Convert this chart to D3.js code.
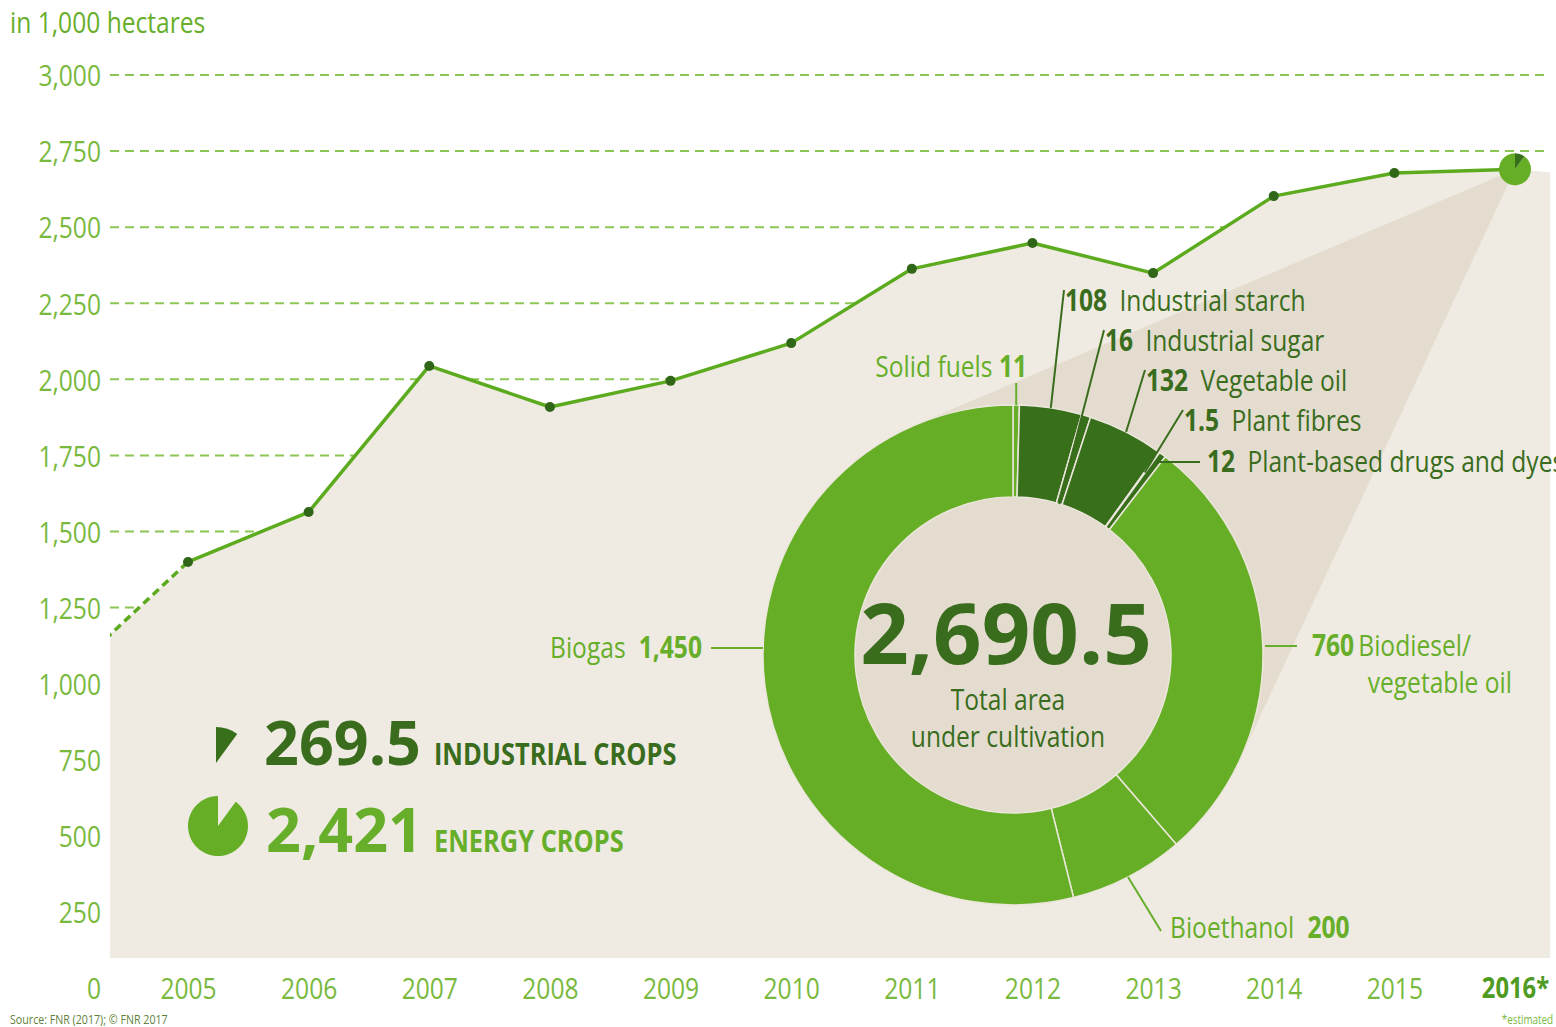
<!DOCTYPE html>
<html>
<head>
<meta charset="utf-8">
<script src="https://cdn.jsdelivr.net/npm/d3@7"></script>
<style>
  html, body { margin: 0; padding: 0; background: #ffffff; }
  svg { display: block; }
</style>
</head>
<body>
<svg id="chart" width="1556" height="1027"></svg>
<script>
// Cultivated area of renewable raw materials, in 1,000 hectares
const years = [2004, 2005, 2006, 2007, 2008, 2009, 2010, 2011, 2012, 2013, 2014, 2015, 2016];
const areaValues = [1030, 1400, 1564, 2044, 1909, 1995, 2119, 2363, 2448, 2349, 2602, 2678, 2690.5];
const yearLabels = ["2005", "2006", "2007", "2008", "2009", "2010", "2011", "2012", "2013", "2014", "2015", "2016*"];
const yTicks = [0, 250, 500, 750, 1000, 1250, 1500, 1750, 2000, 2250, 2500, 2750, 3000];

// 2016 breakdown by use (clockwise from twelve o'clock)
const uses = ["Solid fuels", "Industrial starch", "Industrial sugar", "Vegetable oil", "Plant fibres",
              "Plant-based drugs and dyes", "Biodiesel/vegetable oil", "Bioethanol", "Biogas"];
const useValues = [11, 108, 16, 132, 1.5, 12, 760, 200, 1450];
const useGroup = ["energy", "industrial", "industrial", "industrial", "industrial", "industrial", "energy", "energy", "energy"];

const C = {
  light: "#66ae25", dark: "#386f1a", textLight: "#67ae2a", textDark: "#3a6c1d",
  axis: "#79b93e", grid: "#8cc655", line: "#5cab1f", dot: "#2f6618",
  paper: "#efebe2", shade: "#e4ddcf"
};
const FONT = "'Open Sans', 'Noto Sans', sans-serif";
const SX = 0.82; // horizontal squeeze for the condensed look

const svg = d3.select("#chart");
const W = 1556, H = 1027;
const plotLeft = 110, plotRight = 1550;

// condensed text helper
function ntext(parent, px, py, size, fill, anchor) {
  return parent.append("text")
    .attr("transform", `translate(${px},${py}) scale(${SX},1)`)
    .attr("font-family", FONT).attr("font-size", size).attr("fill", fill)
    .attr("text-anchor", anchor || "start");
}

const x = d3.scaleLinear().domain([2005, 2016]).range([188, 1515]);
const y = d3.scaleLinear().domain([0, 3000]).range([988, 75]);
const floorY = y(0) - 30;
const fmt = d3.format(",");

const pts = years.map((yr, i) => [x(yr), y(areaValues[i])]);

svg.append("defs").append("clipPath").attr("id", "plotClip")
  .append("rect").attr("x", plotLeft).attr("y", 0).attr("width", plotRight - plotLeft).attr("height", H);

// unit caption
ntext(svg, 10, 33, 30, C.textLight).text("in 1,000 hectares");

// dashed grid
svg.append("g").selectAll("line").data(yTicks.filter(d => d > 0)).join("line")
  .attr("x1", plotLeft).attr("x2", plotRight)
  .attr("y1", d => y(d)).attr("y2", d => y(d))
  .attr("stroke", C.grid).attr("stroke-width", 2).attr("stroke-dasharray", "9,6");

// y axis labels
const yAxis = svg.append("g").attr("transform", "translate(101,0)")
  .call(d3.axisLeft(y).tickValues(yTicks).tickFormat(fmt).tickSize(0).tickPadding(0));
yAxis.select(".domain").remove();
yAxis.selectAll("text").attr("font-family", FONT).attr("font-size", 30).attr("fill", C.axis)
  .attr("dy", "0.36em").attr("transform", `scale(${SX},1)`);

// x axis labels
const xAxis = svg.append("g").attr("transform", `translate(0,${y(0)})`)
  .call(d3.axisBottom(x).tickValues(years.slice(1)).tickFormat((d, i) => yearLabels[i]).tickSize(0).tickPadding(0));
xAxis.select(".domain").remove();
xAxis.selectAll("text")
  .attr("font-family", FONT)
  .attr("font-weight", d => d === 2016 ? 700 : 400)
  .attr("y", 0).attr("dy", "0.36em")
  .attr("font-size", d => d === 2016 ? 29 : 30)
  .attr("fill", d => d === 2016 ? "#4f9a21" : C.axis)
  .attr("transform", `scale(${SX},1)`);

// area under the curve
const areaPts = pts.concat([[plotRight, pts[pts.length - 1][1] + 3]]);
svg.append("path").attr("clip-path", "url(#plotClip)")
  .attr("d", d3.area().x(d => d[0]).y0(floorY).y1(d => d[1])(areaPts))
  .attr("fill", C.paper);

// donut geometry
const cx = 1013, cy = 655, R = 250, r0 = 158;
const apex = pts[pts.length - 1];

// shaded cone from the 2016 point to the donut
{
  const dx = apex[0] - cx, dy = apex[1] - cy;
  const d = Math.hypot(dx, dy);
  const th = Math.atan2(dy, dx), al = Math.acos(R / d);
  const t1 = [cx + R * Math.cos(th + al), cy + R * Math.sin(th + al)];
  const t2 = [cx + R * Math.cos(th - al), cy + R * Math.sin(th - al)];
  svg.append("path").attr("d", d3.line()([apex, t1, [cx, cy], t2])).attr("fill", C.shade);
}

// trend line
svg.append("path").attr("clip-path", "url(#plotClip)")
  .attr("d", d3.line()(pts.slice(0, 2)))
  .attr("fill", "none").attr("stroke", C.line).attr("stroke-width", 3.5).attr("stroke-dasharray", "8,5");
svg.append("path").attr("d", d3.line()(pts.slice(1)))
  .attr("fill", "none").attr("stroke", C.line).attr("stroke-width", 3.5).attr("stroke-linejoin", "round");
svg.append("g").selectAll("circle").data(pts.slice(1, -1)).join("circle")
  .attr("cx", d => d[0]).attr("cy", d => d[1]).attr("r", 5).attr("fill", C.dot);

// totals by group
const total = d3.sum(useValues);
const industrial = d3.sum(useValues.filter((v, i) => useGroup[i] === "industrial"));
const energy = d3.sum(useValues.filter((v, i) => useGroup[i] === "energy"));
const shareAngle = industrial / total * 2 * Math.PI;

// 2016 marker as a small pie
{
  const g = svg.append("g").attr("transform", `translate(${apex[0]},${apex[1]})`);
  g.append("path").attr("d", d3.arc()({ innerRadius: 0, outerRadius: 16, startAngle: shareAngle, endAngle: 2 * Math.PI })).attr("fill", C.light);
  g.append("path").attr("d", d3.arc()({ innerRadius: 0, outerRadius: 16, startAngle: 0, endAngle: shareAngle })).attr("fill", C.dark);
}

// donut
const arcs = d3.pie().sort(null).value(d => d)(useValues);
const arcGen = d3.arc().innerRadius(r0).outerRadius(R);
const dg = svg.append("g").attr("transform", `translate(${cx},${cy})`);
dg.selectAll("path").data(arcs).join("path")
  .attr("d", arcGen)
  .attr("fill", (d, i) => useGroup[i] === "industrial" ? C.dark : C.light)
  .attr("stroke", "#ece7dc").attr("stroke-width", 1.5);
dg.append("circle").attr("r", r0 - 0.5).attr("fill", C.shade);

const mid = a => (a.startAngle + a.endAngle) / 2;
const polar = (ang, rad) => [cx + rad * Math.sin(ang), cy - rad * Math.cos(ang)];

// centre text
svg.append("text").attr("x", cx - 7).attr("y", cy + 9)
  .attr("font-family", FONT).attr("font-weight", 700)
  .attr("text-anchor", "middle").attr("font-size", 85).attr("fill", C.textDark)
  .text(d3.format(",.1f")(total));
ntext(svg, cx - 5, cy + 55, 30, C.textDark, "middle").text("Total area");
ntext(svg, cx - 5, cy + 92, 30, C.textDark, "middle").text("under cultivation");

// industrial labels, stacked above right
const indLabel = [
  { i: 1, x: 1065, y: 311, to: R },
  { i: 2, x: 1105, y: 351, to: r0 },
  { i: 3, x: 1146, y: 391, to: R },
  { i: 4, x: 1184, y: 431, to: R - 25 },
];
indLabel.forEach(l => {
  const p = polar(mid(arcs[l.i]), l.to);
  svg.append("line").attr("x1", l.x - 1).attr("y1", l.y - 21).attr("x2", p[0]).attr("y2", p[1])
    .attr("stroke", C.textDark).attr("stroke-width", 2);
  const t = ntext(svg, l.x, l.y, 30, C.textDark);
  t.append("tspan").attr("font-weight", 700).text(fmt(useValues[l.i]));
  t.append("tspan").attr("dx", 15).text(uses[l.i]);
});
{
  const i = 5, ly = 462;
  const a = mid(arcs[i]);
  const rr = (cy - ly) / Math.cos(a);
  svg.append("line").attr("x1", 1200).attr("y1", ly).attr("x2", cx + rr * Math.sin(a)).attr("y2", ly)
    .attr("stroke", C.textDark).attr("stroke-width", 2);
  const t = ntext(svg, 1207, ly + 10, 30, C.textDark);
  t.append("tspan").attr("font-weight", 700).text(fmt(useValues[i]));
  t.append("tspan").attr("dx", 15).text(uses[i]);
}

// solid fuels
{
  const p = polar(mid(arcs[0]), R);
  svg.append("line").attr("x1", p[0]).attr("y1", p[1]).attr("x2", p[0]).attr("y2", p[1] - 22)
    .attr("stroke", C.textLight).attr("stroke-width", 2);
  const t = ntext(svg, 1027, 377, 30, C.textLight, "end");
  t.append("tspan").text(uses[0] + " ");
  t.append("tspan").attr("font-weight", 700).text(fmt(useValues[0]));
}

// biogas
{
  const ly = cy - 7;
  svg.append("line").attr("x1", cx - R - 52).attr("y1", ly).attr("x2", cx - R).attr("y2", ly)
    .attr("stroke", C.textLight).attr("stroke-width", 2);
  const t = ntext(svg, cx - R - 61, ly + 10, 30, C.textLight, "end");
  t.append("tspan").text(uses[8]);
  t.append("tspan").attr("dx", 16).attr("font-weight", 700).text(fmt(useValues[8]));
}

// biodiesel
{
  const ly = cy - 9;
  svg.append("line").attr("x1", cx + R + 2).attr("y1", ly).attr("x2", cx + R + 34).attr("y2", ly)
    .attr("stroke", C.textLight).attr("stroke-width", 2);
  const [l1, l2] = uses[6].split("/");
  const t = ntext(svg, 1312, ly + 10, 30, C.textLight);
  t.append("tspan").attr("font-weight", 700).text(fmt(useValues[6]));
  t.append("tspan").attr("dx", 5).text(l1 + "/");
  ntext(svg, 1512, ly + 47, 30, C.textLight, "end").text(l2);
}

// bioethanol
{
  const p = polar(mid(arcs[7]), R);
  svg.append("line").attr("x1", p[0]).attr("y1", p[1]).attr("x2", 1161).attr("y2", 931)
    .attr("stroke", C.textLight).attr("stroke-width", 2);
  const t = ntext(svg, 1170, 938, 30, C.textLight);
  t.append("tspan").text(uses[7]);
  t.append("tspan").attr("dx", 16).attr("font-weight", 700).text(fmt(useValues[7]));
}

// group legend with pie icons
{
  svg.append("path").attr("transform", "translate(216,763)")
    .attr("d", d3.arc()({ innerRadius: 0, outerRadius: 36, startAngle: 0, endAngle: shareAngle }))
    .attr("fill", C.dark);
  const n1 = svg.append("text").attr("x", 264).attr("y", 765).attr("fill", C.textDark)
    .attr("font-family", FONT).attr("font-weight", 700).attr("font-size", 61).text(fmt(industrial));
  const e1 = 264 + n1.node().getComputedTextLength();
  ntext(svg, e1 + 13, 765, 31, C.textDark).attr("font-weight", 700).text("INDUSTRIAL CROPS");

  svg.append("path").attr("transform", "translate(218,826)")
    .attr("d", d3.arc()({ innerRadius: 0, outerRadius: 30, startAngle: shareAngle, endAngle: 2 * Math.PI }))
    .attr("fill", C.light);
  const n2 = svg.append("text").attr("x", 266).attr("y", 852).attr("fill", C.textLight)
    .attr("font-family", FONT).attr("font-weight", 700).attr("font-size", 61).text(fmt(energy));
  const e2 = 266 + n2.node().getComputedTextLength();
  ntext(svg, e2 + 11, 852, 31, C.textLight).attr("font-weight", 700).text("ENERGY CROPS");
}

// footnotes
ntext(svg, 10, 1024, 13, "#5f7f3a").text("Source: FNR (2017); © FNR 2017");
ntext(svg, 1553, 1024, 12, C.axis, "end").text("*estimated");
</script>
</body>
</html>
